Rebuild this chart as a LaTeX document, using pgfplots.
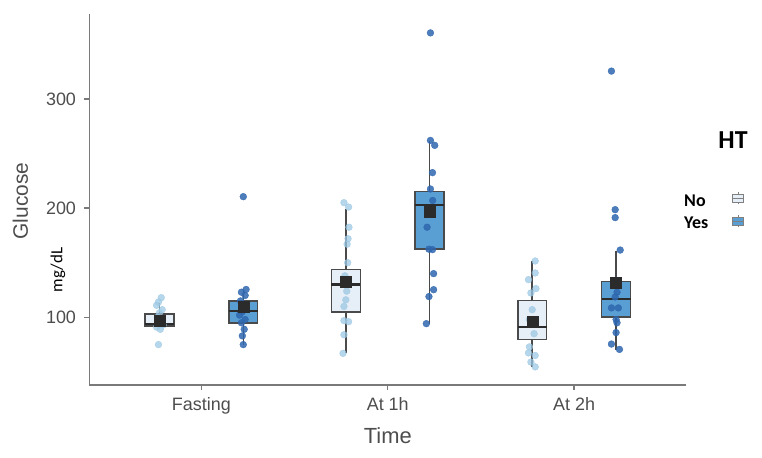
\documentclass[border=0pt]{standalone}
\usepackage{pgfplots}
\pgfplotsset{compat=1.18}
\usepackage{fontspec}
\setmainfont{Liberation Sans}
\newfontfamily\calibri{Carlito}
\definecolor{axgray}{HTML}{7A7A7A}
\definecolor{txtgray}{HTML}{4D4D4D}
\definecolor{nofill}{HTML}{E6EEF7}
\definecolor{yesfill}{HTML}{5A9FD4}
\definecolor{nopt}{HTML}{9CC8E4}
\definecolor{yespt}{HTML}{2E66AE}
\definecolor{boxline}{HTML}{4A4A4A}
\definecolor{meancol}{HTML}{2B2B2B}
\pgfplotsset{
  whisk/.style={draw=boxline, line width=1.5bp, unbounded coords=jump},
  nobox/.style={draw=boxline, line width=1.5bp, fill=nofill},
  yesbox/.style={draw=boxline, line width=1.5bp, fill=yesfill},
  med/.style={draw=meancol, line width=2.2bp, unbounded coords=jump},
  nopts/.style={only marks, mark=*, mark size=3.4bp, mark options={fill=nopt, draw=nopt, fill opacity=0.75, draw opacity=0.75}},
  yespts/.style={only marks, mark=*, mark size=3.4bp, mark options={fill=yespt, draw=yespt, fill opacity=0.85, draw opacity=0.85}},
  meanpt/.style={only marks, mark=square*, mark size=5.5bp, mark options={fill=meancol, draw=meancol}},
}
\begin{document}
\begin{tikzpicture}
\useasboundingbox (-89.5bp,-73bp) rectangle (672.5bp,385bp);
\begin{axis}[
  scale only axis, width=596.5bp, height=371bp,
  xmin=0.4, xmax=3.6, ymin=38, ymax=377.8,
  axis x line=bottom, axis y line=left,
  axis line style={draw=axgray, line width=1.6bp, -},
  xtick={1,2,3}, xticklabels={Fasting,At 1h,At 2h},
  ytick={100,200,300},
  tick align=outside, major tick length=5bp,
  tick style={draw=axgray, line width=1.4bp},
  tick label style={font=\fontsize{18}{20}\selectfont, text=txtgray},
  xticklabel style={yshift=-4bp},
  yticklabel style={xshift=-5bp},
  /pgf/number format/assume math mode=true,
  xlabel={Time}, ylabel={Glucose},
  every axis x label/.style={at={(axis description cs:0.5,-0.1375)}, anchor=center, font=\fontsize{22}{24}\selectfont, text=txtgray},
  every axis y label/.style={at={(axis description cs:-0.1157,0.496)}, anchor=center, rotate=90, font=\fontsize{21}{24}\selectfont, text=txtgray},
]
% ---- whiskers (lower whisker to upper whisker)
\addplot[whisk] coordinates {
 (0.775,91) (0.775,113) (nan,nan)
 (1.225,75) (1.225,125) (nan,nan)
 (1.775,67) (1.775,199) (nan,nan)
 (2.225,94) (2.225,261.6) (nan,nan)
 (2.775,54.6) (2.775,152) (nan,nan)
 (3.225,70.5) (3.225,161)
};
% ---- boxes (lower quartile to upper quartile)
\addplot[nobox]  coordinates {(0.6975,92) (0.8525,92) (0.8525,103) (0.6975,103)} -- cycle;
\addplot[yesbox] coordinates {(1.1475,95) (1.3025,95) (1.3025,115) (1.1475,115)} -- cycle;
\addplot[nobox]  coordinates {(1.6975,105) (1.8525,105) (1.8525,143.6) (1.6975,143.6)} -- cycle;
\addplot[yesbox] coordinates {(2.1475,162.4) (2.3025,162.4) (2.3025,215) (2.1475,215)} -- cycle;
\addplot[nobox]  coordinates {(2.6975,79.6) (2.8525,79.6) (2.8525,115.5) (2.6975,115.5)} -- cycle;
\addplot[yesbox] coordinates {(3.1475,100.3) (3.3025,100.3) (3.3025,132.6) (3.1475,132.6)} -- cycle;
% ---- medians
\addplot[med] coordinates {
 (0.6975,94) (0.8525,94) (nan,nan)
 (1.1475,106) (1.3025,106) (nan,nan)
 (1.6975,130) (1.8525,130) (nan,nan)
 (2.1475,203) (2.3025,203) (nan,nan)
 (2.6975,91.2) (2.8525,91.2) (nan,nan)
 (3.1475,117) (3.3025,117)
};
% ---- points, HT = No
\addplot[nopts] coordinates {
 (0.785,118) (0.770,114) (0.760,111) (0.790,107) (0.775,104) (0.765,100) (0.785,97) (0.770,95) (0.795,93) (0.760,91) (0.780,89) (0.770,75)
 (1.765,205) (1.790,201) (1.792,182.5) (1.787,172) (1.782,167) (1.785,150) (1.770,138) (1.780,124) (1.775,116) (1.765,110) (1.765,97) (1.790,96) (1.765,84) (1.760,67)
 (2.791,151.6) (2.791,140.6) (2.755,134.5) (2.795,126.3) (2.768,122.3) (2.775,107) (2.760,98) (2.785,85) (2.760,72.9) (2.755,67.4) (2.791,65) (2.768,59) (2.791,54.6)
};
% ---- points, HT = Yes
\addplot[yespts] coordinates {
 (1.225,210.5) (1.240,125.5) (1.215,123) (1.235,120) (1.210,115) (1.230,112) (1.240,108) (1.220,105) (1.205,102) (1.235,98) (1.215,95) (1.230,89) (1.220,83) (1.225,75)
 (2.229,360.5) (2.229,262) (2.252,257.5) (2.240,232.5) (2.229,217.5) (2.241,207) (2.211,182.5) (2.221,162.4) (2.240,162) (2.246,140) (2.246,125.3) (2.221,119) (2.207,94.2)
 (3.200,325.5) (3.220,198.6) (3.220,191.3) (3.247,161.6) (3.225,134) (3.230,123) (3.220,118.6) (3.200,108.6) (3.237,108.6) (3.225,98) (3.230,95) (3.225,86) (3.200,75.5) (3.243,70.6)
};
% ---- means
\addplot[meanpt] coordinates {(0.775,97) (1.225,110) (1.775,133) (2.225,197) (2.775,95.7) (3.225,131.7)};
\end{axis}
% ---- unit label
\node[rotate=90, anchor=center, font=\calibri\fontsize{17}{20}\selectfont, text=black] at (-31.5bp,115bp) {mg/dL};
% ---- legend
\node[anchor=center, font=\calibri\bfseries\fontsize{26}{28}\selectfont] at (643.5bp,245bp) {HT};
\node[anchor=west, inner sep=0pt, font=\calibri\bfseries\fontsize{18}{20}\selectfont] at (594.5bp,184bp) {No};
\node[anchor=west, inner sep=0pt, font=\calibri\bfseries\fontsize{18}{20}\selectfont] at (594.5bp,162bp) {Yes};
\draw[boxline!70, line width=0.9bp] (648.5bp,180.5bp) -- (648.5bp,192.5bp);
\draw[boxline!70, line width=0.9bp, fill=nofill] (643bp,182.5bp) rectangle (654bp,190.5bp);
\draw[boxline!70, line width=1.2bp] (643bp,186.5bp) -- (654bp,186.5bp);
\draw[boxline!70, line width=0.9bp] (648.5bp,157.5bp) -- (648.5bp,169.5bp);
\draw[boxline!70, line width=0.9bp, fill=yesfill] (643bp,159.5bp) rectangle (654bp,167.5bp);
\draw[boxline!70, line width=1.2bp] (643bp,163.5bp) -- (654bp,163.5bp);
\end{tikzpicture}
\end{document}
